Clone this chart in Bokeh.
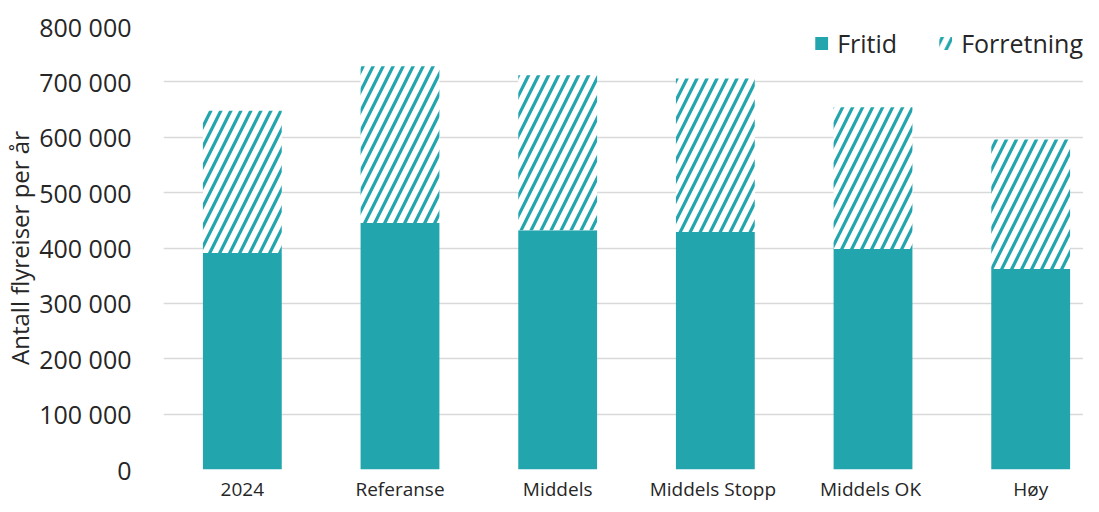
from bokeh.plotting import figure
from bokeh.models import ColumnDataSource, Range1d, FixedTicker, Legend, LegendItem, CustomJSTickFormatter
from bokeh.embed import file_html
from bokeh.resources import INLINE

categories = ["2024", "Referanse", "Middels", "Middels  Stopp", "Middels  OK", "Høy"]
fritid = [391000, 445000, 432000, 429000, 398000, 362000]
forretning = [257000, 283000, 280000, 277000, 256000, 234000]
y_ticks = [0, 100000, 200000, 300000, 400000, 500000, 600000, 700000, 800000]

TEAL = "#23A5AE"
FONT = "Open Sans"
TXT = "#262626"

x = list(range(len(categories)))
total = [a + b for a, b in zip(fritid, forretning)]
src = ColumnDataSource(dict(x=x, fritid=fritid, total=total, zero=[0] * len(x)))

p = figure(width=1083, height=504, output_backend="svg", toolbar_location=None,
           x_range=Range1d(-0.5, 5.335), y_range=Range1d(0, 800000),
           min_border_left=154, min_border_right=0, min_border_top=26, min_border_bottom=20)

r1 = p.vbar(x="x", bottom="zero", top="fritid", width=0.5, source=src,
            fill_color=TEAL, line_color=None)
r2 = p.vbar(x="x", bottom="fritid", top="total", width=0.5, source=src,
            fill_color="white", line_color=None, hatch_pattern="/",
            hatch_color=TEAL, hatch_scale=20, hatch_weight=3.2)

p.outline_line_color = None
p.xgrid.grid_line_color = None
p.ygrid.grid_line_color = "#d9d9d9"
p.ygrid.grid_line_width = 1.5
p.ygrid.ticker = FixedTicker(ticks=y_ticks)

ya = p.yaxis[0]
ya.ticker = FixedTicker(ticks=y_ticks)
ya.formatter = CustomJSTickFormatter(code="""
const s = Math.round(tick).toString();
return s.replace(/\\B(?=(\\d{3})+(?!\\d))/g, ' ');
""")
ya.axis_line_color = None
ya.major_tick_line_color = None
ya.minor_tick_line_color = None
ya.major_label_text_font = FONT
ya.major_label_text_font_size = "25px"
ya.major_label_text_color = TXT
ya.major_label_standoff = 26
ya.axis_label = "Antall flyreiser per år"
ya.axis_label_text_font = FONT
ya.axis_label_text_font_size = "24px"
ya.axis_label_text_font_style = "normal"
ya.axis_label_text_color = TXT
ya.axis_label_standoff = 0

xa = p.xaxis[0]
xa.ticker = FixedTicker(ticks=x)
xa.major_label_overrides = {i: c for i, c in enumerate(categories)}
xa.axis_line_color = None
xa.major_tick_line_color = None
xa.minor_tick_line_color = None
xa.major_label_text_font = FONT
xa.major_label_text_font_size = "19px"
xa.major_label_text_color = TXT
xa.major_label_standoff = 0

legend = Legend(items=[LegendItem(label="Fritid", renderers=[r1]),
                       LegendItem(label="Forretning", renderers=[r2])],
                location="top_right", orientation="horizontal")
legend.label_text_font = FONT
legend.label_text_font_size = "25px"
legend.label_text_color = TXT
legend.glyph_width = 16
legend.glyph_height = 16
legend.label_standoff = 8
legend.spacing = 40
legend.padding = 0
legend.margin = 0
legend.border_line_color = None
legend.background_fill_alpha = 0
p.add_layout(legend)

open("out.html", "w").write(file_html(p, INLINE))
